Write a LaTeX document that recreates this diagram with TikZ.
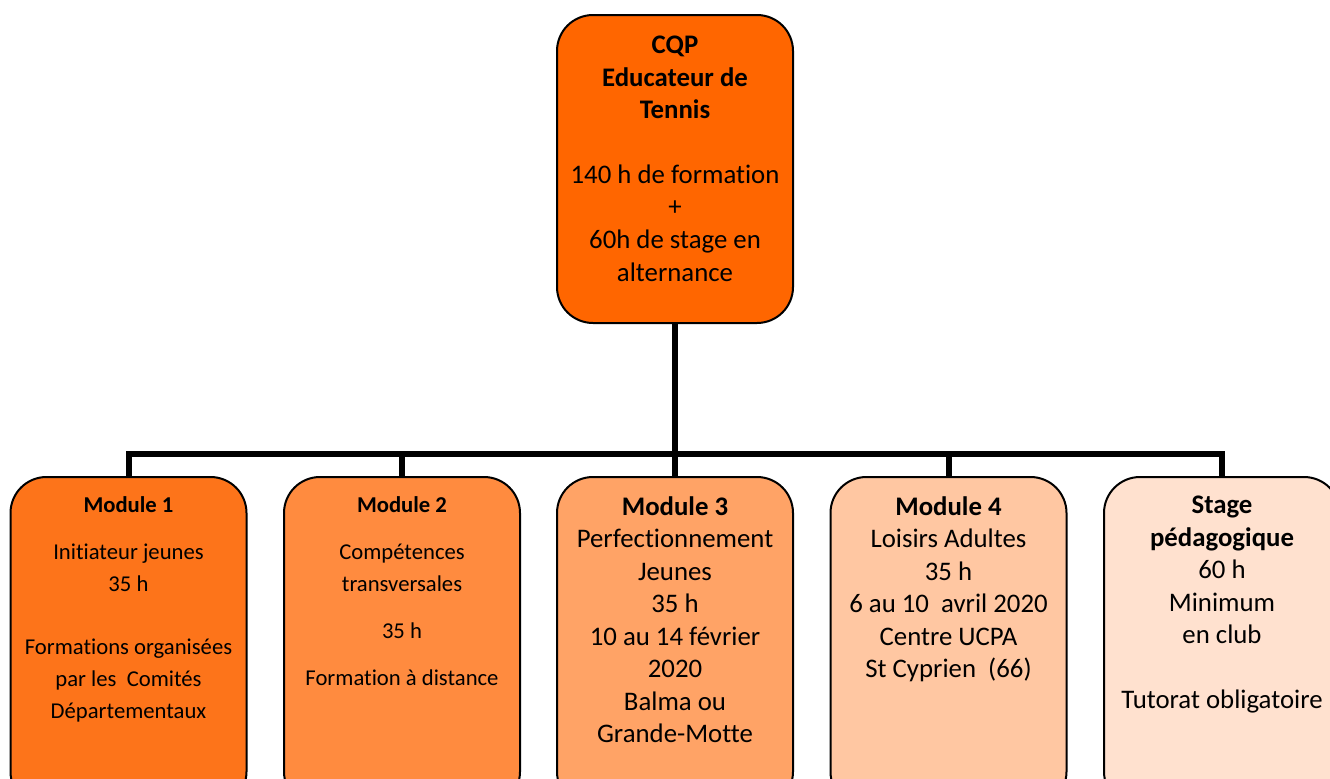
\documentclass[tikz,border=0pt]{standalone}
\usepackage{fontspec}
\setmainfont[RawFeature={-liga}]{Carlito}
\usepackage{xcolor}
\usepackage{tikz}
\usetikzlibrary{positioning}

\definecolor{cqpfill}{HTML}{FF6600}
\definecolor{modA}{HTML}{FD741A}
\definecolor{modB}{HTML}{FF8B3F}
\definecolor{modC}{HTML}{FFA366}
\definecolor{modD}{HTML}{FFC7A2}
\definecolor{modE}{HTML}{FFE1CF}

\begin{document}
\begin{tikzpicture}[x=0.75pt,y=-0.75pt,node distance=15pt]
  \tikzstyle{box}=[draw, line width=1.5pt, rounded corners=27pt, inner sep=0pt, minimum width=177pt, anchor=north]
  \tikzstyle{bar}=[line width=4.5pt]
  \tikzstyle{bigtxt}=[align=center, inner sep=0pt, font=\fontsize{20.1}{24.4}\selectfont]
  \tikzstyle{smalltxt}=[align=center, inner sep=0pt, font=\fontsize{17}{24}\selectfont]
  \useasboundingbox (0,0) rectangle (1330,778);
  \clip (0,0) rectangle (1330,778);

  % boxes
  \node[box, fill=cqpfill, minimum height=231pt] (cqp) at (675,14) {};
  \node[box, fill=modA, minimum height=248pt] (m1) at (128.5,476) {};
  \node[box, fill=modB, minimum height=248pt] (m2) at (402,476) {};
  \node[box, fill=modC, minimum height=248pt] (m3) at (675,476) {};
  \node[box, fill=modD, minimum height=248pt] (m4) at (948.5,476) {};
  \node[box, fill=modE, minimum height=248pt] (m5) at (1222,476) {};

  % links
  \coordinate (fork) at (675,454);
  \draw[bar] (cqp.south) -- (fork);
  \foreach \m in {m1,m2,m3,m4,m5}
    \draw[bar] (\m.north) |- (fork);

  % texts
  \node[bigtxt, below=16.5pt of cqp.north] (tcqp)
    {\textbf{CQP}\\\textbf{Educateur de}\\\textbf{Tennis}\\[24pt]140 h de formation\\+\\60h de stage en\\alternance};
  \node[smalltxt, below=15pt of m1.north] (t1)
    {\textbf{Module 1}\\[11.25pt]Initiateur jeunes\\35 h\\[23.25pt]Formations organisées\\par les~ Comités\\Départementaux};
  \node[smalltxt, below=15pt of m2.north] (t2)
    {\textbf{Module 2}\\[11.25pt]Compétences\\transversales\\[11.5pt]35 h\\[11.5pt]Formation à distance};
  \node[bigtxt, below=15pt of m3.north] (t3)
    {\textbf{Module 3}\\Perfectionnement\\Jeunes\\35 h\\10 au 14 février\\2020\\Balma ou\\Grande-Motte};
  \node[bigtxt, below=15pt of m4.north] (t4)
    {\textbf{Module 4}\\Loisirs Adultes\\35 h\\6 au 10~ avril 2020\\Centre UCPA\\St Cyprien~ (66)};
  \node[bigtxt, below=15pt of m5.north] (t5)
    {\textbf{Stage}\\\textbf{pédagogique}\\60 h\\Minimum\\en club\\[24pt]Tutorat obligatoire};
\end{tikzpicture}
\end{document}
